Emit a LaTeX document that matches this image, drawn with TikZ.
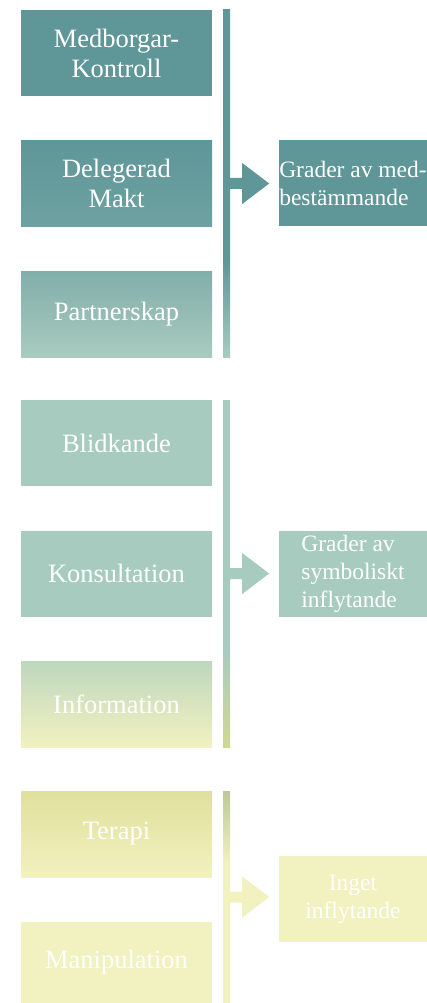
\documentclass[tikz,border=0pt]{standalone}
\usepackage{fontspec}
\setmainfont{Liberation Serif}
\usepackage{xcolor}
\usepackage{tikz}

\definecolor{tealA}{RGB}{95,150,152}
\definecolor{tealB}{RGB}{110,162,162}
\definecolor{tealC}{RGB}{130,174,170}
\definecolor{mint}{RGB}{168,203,191}
\definecolor{mintyellow}{RGB}{190,215,190}
\definecolor{olive}{RGB}{208,216,148}
\definecolor{oliveg}{RGB}{188,200,152}
\definecolor{straw}{RGB}{224,224,156}
\definecolor{paleyellow}{RGB}{242,241,192}

\pgfdeclareverticalshading{barone}{100bp}{color(0bp)=(mint); color(25bp)=(mint); color(39bp)=(tealA); color(100bp)=(tealA)}
\pgfdeclareverticalshading{bartwo}{100bp}{color(0bp)=(olive); color(25bp)=(olive); color(39bp)=(mint); color(100bp)=(mint)}
\pgfdeclareverticalshading{barthree}{100bp}{color(0bp)=(paleyellow); color(58bp)=(paleyellow); color(75bp)=(oliveg); color(100bp)=(oliveg)}

\begin{document}
\begin{tikzpicture}[x=1pt,y=-1pt,
    stage/.style={minimum width=191pt,minimum height=86pt,inner sep=0pt,text=white,
      font=\fontsize{26.5}{30}\selectfont,align=center},
    degree/.style={minimum width=148pt,minimum height=86pt,inner sep=0pt,text=white,
      font=\fontsize{23.5}{28}\selectfont},
    bar/.style={minimum width=7pt,inner sep=0pt}]
    \useasboundingbox (0,0) rectangle (427,1003);

    % Real participation
    \node[stage,fill=tealA] (kontroll) at (116.5,53) {Medborgar-\\Kontroll};
    \node[stage,top color=tealA,bottom color=tealB] (makt) at (116.5,183.5) {Delegerad\\Makt};
    \node[stage,top color=tealC,bottom color=mint] (partner) at (116.5,314) {Partnerskap};
    \node[bar,minimum height=347pt,shading=barone] (bar1) at (226.5,183.5) {};
    \fill[tealA] (bar1.east) ++(0,5.5) -- ++(12,0) -- ++(0,15) -- ++(27,-20.5)
        -- ++(-27,-20.5) -- ++(0,15) -- ++(-12,0) -- cycle;
    \node[degree,fill=tealA,align=left] (deg1) at (353,183) {Grader av med-\\bestämmande};

    % Symbolic participation
    \node[stage,fill=mint] (blid) at (116.5,443) {Blidkande};
    \node[stage,fill=mint] (konsult) at (116.5,573.5) {Konsultation};
    \node[stage,top color=mintyellow,bottom color=paleyellow] (info) at (116.5,704) {Information};
    \node[bar,minimum height=347pt,shading=bartwo] (bar2) at (226.5,573.5) {};
    \fill[mint] (bar2.east) ++(0,5.5) -- ++(12,0) -- ++(0,15) -- ++(27,-20.5)
        -- ++(-27,-20.5) -- ++(0,15) -- ++(-12,0) -- cycle;
    \node[degree,fill=mint,align=left] (deg2) at (353,574) {Grader av\\symboliskt\\inflytande};

    % No participation
    \node[stage,top color=straw,bottom color=paleyellow] (terapi) at (116.5,834) {Terapi};
    \node[stage,fill=paleyellow,minimum height=81pt] (manip) at (116.5,962.5) {Manipulation};
    \node[bar,minimum height=212pt,shading=barthree] (bar3) at (226.5,897) {};
    \fill[paleyellow] (bar3.east) ++(0,5.5) -- ++(12,0) -- ++(0,15) -- ++(27,-20.5)
        -- ++(-27,-20.5) -- ++(0,15) -- ++(-12,0) -- cycle;
    \node[degree,fill=paleyellow,align=center] (deg3) at (353,899) {Inget\\inflytande};
\end{tikzpicture}
\end{document}
